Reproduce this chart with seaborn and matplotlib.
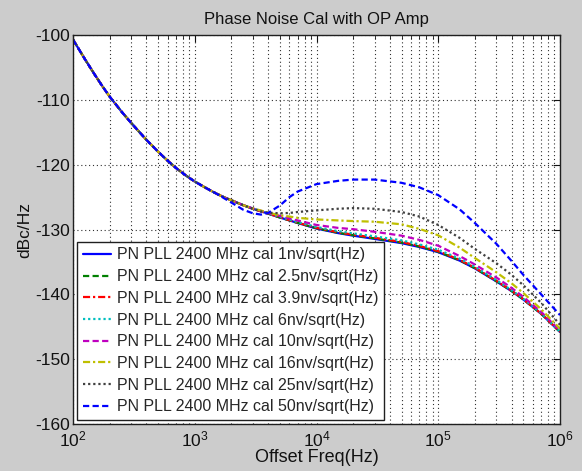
import numpy as np
import pandas as pd
import matplotlib
matplotlib.use("Agg")
import matplotlib.pyplot as plt
import seaborn as sns
from matplotlib.ticker import LogLocator, LogFormatterMathtext, FixedLocator

# ---------------- data ----------------
freq = [100, 125, 150, 175, 200, 250, 300, 400, 500, 600, 700, 850, 1000, 1250,
        1500, 1750, 2000, 2500, 3000, 3500, 4000, 5000, 6000, 7000, 1e4, 1.5e4,
        2e4, 3e4, 5e4, 7e4, 1e5, 1.5e5, 2e5, 3e5, 4e5, 5e5, 7e5, 1e6]

low_part = [-100.7, -103.7, -106.05, -107.95, -109.5, -111.8, -113.55, -116.15,
            -118.0, -119.4, -120.5, -121.7, -122.6, -123.65, -124.45, -125.05,
            -125.5, -126.25]

pn_1nv = low_part + [-126.8, -127.2, -127.55, -128.15, -128.6, -129.0, -129.85, -130.55,
                     -130.95, -131.45, -132.1, -132.7, -133.5, -134.8, -136.0, -138.0,
                     -139.5, -140.8, -143.0, -145.8]
pn_2p5nv = low_part + [-126.8, -127.2, -127.55, -128.15, -128.6, -128.98, -129.8, -130.5,
                       -130.88, -131.37, -132.02, -132.63, -133.43, -134.75, -135.96,
                       -137.97, -139.48, -140.78, -142.99, -145.8]
pn_3p9nv = low_part + [-126.8, -127.2, -127.53, -128.12, -128.56, -128.95, -129.75, -130.42,
                       -130.8, -131.27, -131.92, -132.53, -133.34, -134.68, -135.9,
                       -137.92, -139.44, -140.75, -142.97, -145.78]
pn_6nv = low_part + [-126.78, -127.17, -127.5, -128.05, -128.48, -128.85, -129.6, -130.25,
                     -130.6, -131.05, -131.67, -132.3, -133.12, -134.5, -135.76,
                     -137.8, -139.35, -140.67, -142.9, -145.75]
pn_10nv = low_part + [-126.75, -127.12, -127.45, -127.9, -128.3, -128.6, -129.3, -129.75,
                      -129.95, -130.35, -130.95, -131.6, -132.5, -134.1, -135.4,
                      -137.4, -139.0, -140.4, -142.7, -145.6]
pn_16nv = low_part + [-126.75, -127.08, -127.4, -127.8, -128.0, -128.2, -128.45, -128.6,
                      -128.7, -128.8, -129.2, -129.9, -130.9, -132.8, -134.4,
                      -136.6, -138.3, -139.8, -142.3, -145.3]
pn_25nv = low_part + [-126.8, -127.2, -127.4, -127.5, -127.45, -127.3, -127.05, -126.8,
                      -126.7, -126.8, -127.3, -128.0, -129.3, -131.3, -133.0,
                      -135.2, -137.0, -138.6, -141.3, -144.7]
pn_50nv = low_part[:15] + [-125.2, -125.85, -126.95, -127.5, -127.7, -127.45, -126.3,
                           -125.0, -124.15, -123.0, -122.5, -122.3, -122.3, -122.8,
                           -123.5, -124.7, -126.9, -129.0, -132.2, -134.85, -137.0,
                           -140.0, -143.2]

labels = ["PN PLL 2400 MHz cal 1nv/sqrt(Hz)",
          "PN PLL 2400 MHz cal 2.5nv/sqrt(Hz)",
          "PN PLL 2400 MHz cal 3.9nv/sqrt(Hz)",
          "PN PLL 2400 MHz cal 6nv/sqrt(Hz)",
          "PN PLL 2400 MHz cal 10nv/sqrt(Hz)",
          "PN PLL 2400 MHz cal 16nv/sqrt(Hz)",
          "PN PLL 2400 MHz cal 25nv/sqrt(Hz)",
          "PN PLL 2400 MHz cal 50nv/sqrt(Hz)"]
series = [pn_1nv, pn_2p5nv, pn_3p9nv, pn_6nv, pn_10nv, pn_16nv, pn_25nv, pn_50nv]

y_ticks = [-160, -150, -140, -130, -120, -110, -100]
x_ticks = [1e2, 1e3, 1e4, 1e5, 1e6]

# ---------------- style ----------------
colors = ["#0000ff", "#008000", "#ff0000", "#00bfbf", "#bf00bf", "#bfbf00", "#404040", "#0000ff"]
dash = (0, (2.8, 1.5))
dashdot = (0, (3.2, 1.3, 1.0, 1.3))
dot = (0, (1.0, 1.3))
styles = ["-", dash, dashdot, dot, dash, dashdot, dot, dash]

sns.set_theme(style="white")
plt.rcParams["font.family"] = ["Liberation Sans", "DejaVu Sans"]
plt.rcParams["mathtext.fontset"] = "custom"
plt.rcParams["mathtext.rm"] = "Liberation Sans"
plt.rcParams["mathtext.it"] = "Liberation Sans"
plt.rcParams["axes.unicode_minus"] = False

fig = plt.figure(figsize=(5.82, 4.71), dpi=100, facecolor="#cccccc")
ax = fig.add_axes([73 / 582, 47 / 471, (560 - 73) / 582, (424 - 35) / 471])
ax.set_facecolor("white")

for vals, lab, c, ls in zip(series, labels, colors, styles):
    df = pd.DataFrame({"freq": freq, "pn": vals})
    sns.lineplot(data=df, x="freq", y="pn", ax=ax, color=c, linestyle=ls,
                 linewidth=1.6, label=lab, estimator=None, sort=False)

ax.set_xscale("log")
ax.set_xlim(1e2, 1e6)
ax.set_ylim(-160, -100)
ax.yaxis.set_major_locator(FixedLocator(y_ticks))
ax.xaxis.set_major_locator(FixedLocator(x_ticks))
ax.xaxis.set_major_formatter(LogFormatterMathtext())
ax.xaxis.set_minor_locator(LogLocator(base=10, subs=np.arange(2, 10)))

ax.grid(True, which="major", axis="both", color="#303030", linestyle=(0, (1, 2.5)), linewidth=0.8)
ax.grid(True, which="minor", axis="x", color="#303030", linestyle=(0, (1, 2.5)), linewidth=0.8)

for s in ax.spines.values():
    s.set_color("#202020")
    s.set_linewidth(1.0)
ax.tick_params(axis="both", which="both", direction="in", top=True, right=True,
               labelsize=12.5, colors="#111111", labelcolor="#111111")
ax.tick_params(axis="both", which="major", length=5, width=0.8)
ax.tick_params(axis="x", which="minor", length=3, width=0.6)
ax.tick_params(axis="x", pad=4)
ax.tick_params(axis="y", pad=2)

ax.set_title("Phase Noise Cal with OP Amp", fontsize=12, color="#111111", pad=8)
ax.set_xlabel("Offset Freq(Hz)", fontsize=13, color="#111111", labelpad=0)
ax.set_ylabel("dBc/Hz", fontsize=12.5, color="#111111", labelpad=2)

leg = ax.legend(loc="lower left", fontsize=11.5, frameon=True, fancybox=False,
                framealpha=1.0, edgecolor="#202020", borderaxespad=0.25,
                handlelength=1.75, handletextpad=0.4, labelspacing=0.42,
                borderpad=0.35)
leg.get_frame().set_linewidth(1.0)

fig.savefig("out.png", dpi=100, facecolor=fig.get_facecolor())
